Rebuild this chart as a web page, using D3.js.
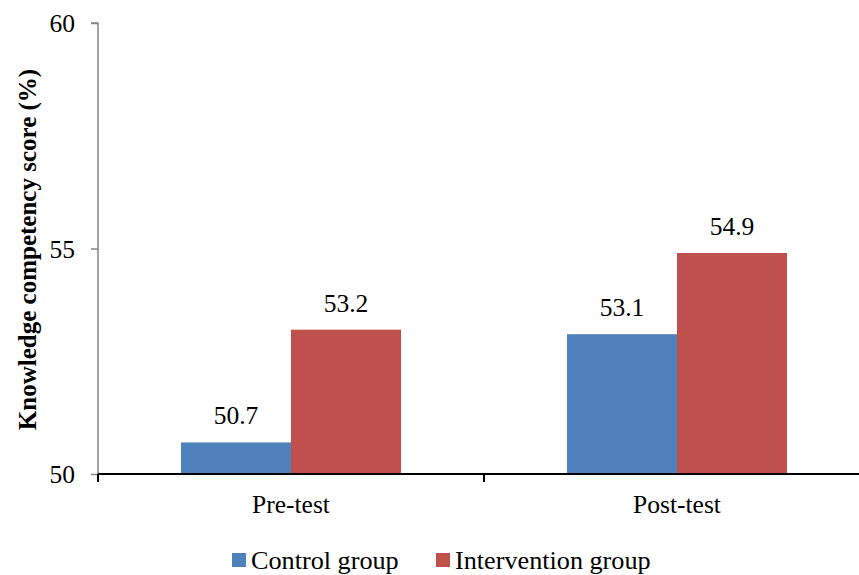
<!DOCTYPE html>
<html>
<head>
<meta charset="utf-8">
<script src="https://cdn.jsdelivr.net/npm/d3@7"></script>
<style>
  html, body { margin: 0; padding: 0; background: #fff; }
  svg text { font-family: "Liberation Serif", "Times New Roman", Times, serif; }
</style>
</head>
<body>
<svg id="chart" width="859" height="575"></svg>
<script>
// Knowledge competency score by test phase and group
const categories = ["Pre-test", "Post-test"];
const seriesNames = ["Control group", "Intervention group"];
const controlValues = [50.7, 53.1];
const interventionValues = [53.2, 54.9];
const yTicks = [50, 55, 60];
const colors = ["#4F81BD", "#C0504D"];

const svg = d3.select("#chart");
const margin = { left: 98, top: 23, bottom: 101 };
const plotBottom = 575 - margin.bottom;
const bandWidth = 386;
const fontSize = 25.5;
const serif = "'Liberation Serif', 'Times New Roman', Times, serif";

const x = d3.scaleBand()
  .domain(categories)
  .range([margin.left, margin.left + bandWidth * categories.length])
  .paddingInner(0).paddingOuter(0);

const xSeries = d3.scaleBand()
  .domain(seriesNames)
  .range([0, x.bandwidth()])
  .paddingInner(0)
  .paddingOuter(0.754);

const y = d3.scaleLinear().domain([50, 60]).range([plotBottom, margin.top]);

const data = categories.map((c, i) => ({
  category: c,
  values: [
    { series: seriesNames[0], value: controlValues[i] },
    { series: seriesNames[1], value: interventionValues[i] }
  ]
}));

// Y axis
const yAxis = svg.append("g")
  .attr("transform", `translate(${margin.left},0)`)
  .call(d3.axisLeft(y).tickValues(yTicks).tickSize(7).tickPadding(16).tickFormat(d3.format("d")));
yAxis.attr("font-family", null);
yAxis.select(".domain").attr("stroke", "#878787").attr("stroke-width", 1.5)
  .attr("d", `M-7,${y(60)}H0V${y(50)}`);
yAxis.selectAll(".tick line").attr("stroke", "#878787").attr("stroke-width", 1.5);
yAxis.selectAll(".tick text").attr("font-size", fontSize).attr("fill", "#000").attr("dy", "0.34em");

// Bars
const groups = svg.append("g").selectAll("g")
  .data(data).join("g")
  .attr("transform", d => `translate(${x(d.category)},0)`);

groups.selectAll("rect")
  .data(d => d.values).join("rect")
  .attr("x", d => xSeries(d.series))
  .attr("width", xSeries.bandwidth())
  .attr("y", d => y(d.value))
  .attr("height", d => y(50) - y(d.value))
  .attr("fill", (d, i) => colors[i]);

groups.selectAll("text.value")
  .data(d => d.values).join("text")
  .attr("class", "value")
  .attr("x", d => xSeries(d.series) + xSeries.bandwidth() / 2)
  .attr("y", d => y(d.value) - 18)
  .attr("text-anchor", "middle")
  .attr("font-size", fontSize)
  .text(d => d3.format(".1f")(d.value));

// X axis
const xAxis = svg.append("g")
  .attr("transform", `translate(0,${plotBottom})`)
  .call(d3.axisBottom(x).tickSize(0).tickPadding(0));
xAxis.attr("font-family", null);
xAxis.select(".domain").attr("stroke", "#000").attr("stroke-width", 2)
  .attr("d", `M${margin.left},0H${margin.left + bandWidth * categories.length}`);
xAxis.selectAll(".tick text").attr("font-size", fontSize).attr("fill", "#000")
  .attr("y", 39).attr("dy", null);
// Category separators
const seps = d3.range(categories.length + 1).map(i => margin.left + i * bandWidth);
xAxis.selectAll("line.sep").data(seps).join("line")
  .attr("class", "sep")
  .attr("x1", d => d).attr("x2", d => d)
  .attr("y1", 0).attr("y2", 8)
  .attr("stroke", "#000").attr("stroke-width", 2);

// Y axis title
svg.append("text")
  .attr("transform", `translate(36,${(y(50) + y(60)) / 2 + 1}) rotate(-90)`)
  .attr("text-anchor", "middle")
  .attr("font-size", 25)
  .attr("font-weight", "bold")
  .text("Knowledge competency score (%)");

// Legend
const legendItems = [
  { name: seriesNames[0], color: colors[0], x: 232 },
  { name: seriesNames[1], color: colors[1], x: 436 }
];
const legend = svg.append("g");
const li = legend.selectAll("g").data(legendItems).join("g")
  .attr("transform", d => `translate(${d.x},553)`);
li.append("rect").attr("width", 14).attr("height", 14).attr("fill", d => d.color);
li.append("text").attr("x", 19).attr("y", 15.5).attr("font-size", 26.2).text(d => d.name);

svg.selectAll("text").style("font-family", serif);
</script>
</body>
</html>
